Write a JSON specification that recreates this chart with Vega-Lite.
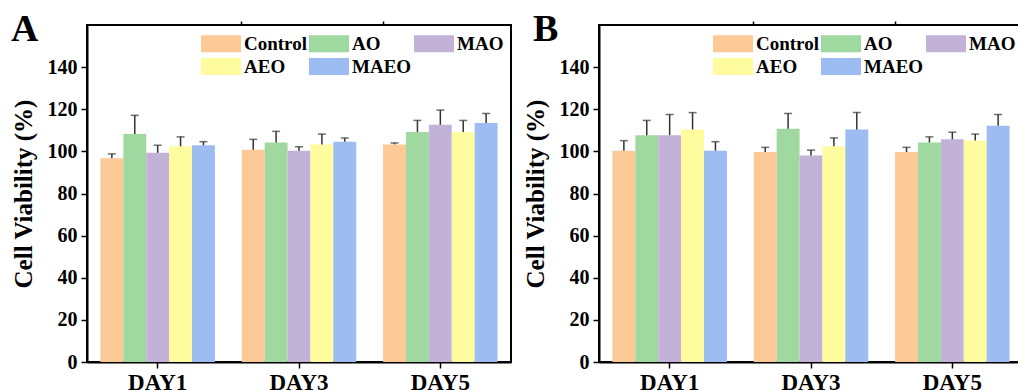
{
  "$schema": "https://vega.github.io/schema/vega-lite/v6.json",
  "padding": {"left": 10, "top": 10, "right": 0, "bottom": 0},
  "background": "white",
  "datasets": {
    "a": [
      {"day": "DAY1", "group": "Control", "value": 96.7, "upper": 98.8},
      {"day": "DAY1", "group": "AO", "value": 108.2, "upper": 117.1},
      {"day": "DAY1", "group": "MAO", "value": 99.3, "upper": 102.9},
      {"day": "DAY1", "group": "AEO", "value": 102.4, "upper": 106.9},
      {"day": "DAY1", "group": "MAEO", "value": 102.9, "upper": 104.6},
      {"day": "DAY3", "group": "Control", "value": 100.8, "upper": 105.7},
      {"day": "DAY3", "group": "AO", "value": 104.2, "upper": 109.5},
      {"day": "DAY3", "group": "MAO", "value": 100.3, "upper": 102.2},
      {"day": "DAY3", "group": "AEO", "value": 103.3, "upper": 108.2},
      {"day": "DAY3", "group": "MAEO", "value": 104.6, "upper": 106.4},
      {"day": "DAY5", "group": "Control", "value": 103.3, "upper": 104.0},
      {"day": "DAY5", "group": "AO", "value": 109.2, "upper": 114.7},
      {"day": "DAY5", "group": "MAO", "value": 112.6, "upper": 119.6},
      {"day": "DAY5", "group": "AEO", "value": 109.2, "upper": 114.7},
      {"day": "DAY5", "group": "MAEO", "value": 113.5, "upper": 118.0}
    ],
    "b": [
      {"day": "DAY1", "group": "Control", "value": 100.3, "upper": 105.1},
      {"day": "DAY1", "group": "AO", "value": 107.7, "upper": 114.7},
      {"day": "DAY1", "group": "MAO", "value": 107.7, "upper": 117.5},
      {"day": "DAY1", "group": "AEO", "value": 110.4, "upper": 118.4},
      {"day": "DAY1", "group": "MAEO", "value": 100.3, "upper": 104.6},
      {"day": "DAY3", "group": "Control", "value": 99.7, "upper": 101.9},
      {"day": "DAY3", "group": "AO", "value": 110.8, "upper": 118.0},
      {"day": "DAY3", "group": "MAO", "value": 98.1, "upper": 100.6},
      {"day": "DAY3", "group": "AEO", "value": 102.4, "upper": 106.4},
      {"day": "DAY3", "group": "MAEO", "value": 110.4, "upper": 118.4},
      {"day": "DAY5", "group": "Control", "value": 99.7, "upper": 101.9},
      {"day": "DAY5", "group": "AO", "value": 104.2, "upper": 106.9},
      {"day": "DAY5", "group": "MAO", "value": 105.7, "upper": 109.1},
      {"day": "DAY5", "group": "AEO", "value": 105.2, "upper": 108.2},
      {"day": "DAY5", "group": "MAEO", "value": 112.2, "upper": 117.5}
    ]
  },
  "config": {
    "font": "Liberation Serif",
    "view": {"stroke": "black", "strokeWidth": 2},
    "axis": {
      "labelFont": "Liberation Serif", "labelFontWeight": "bold", "labelColor": "black",
      "titleFont": "Liberation Serif", "titleFontWeight": "bold", "titleColor": "black",
      "domainColor": "black", "domainWidth": 2, "tickColor": "black", "tickWidth": 1.5, "grid": false
    },
    "legend": {
      "labelFont": "Liberation Serif", "labelFontWeight": "bold", "labelFontSize": 19, "labelColor": "black",
      "symbolType": "M-1,-1H3.706V1H-1Z", "symbolSize": 289, "symbolStrokeWidth": 0, "symbolOpacity": 1,
      "labelOffset": 25, "columns": 3, "columnPadding": 1, "rowPadding": 3, "padding": 0,
      "orient": "none", "direction": "horizontal", "legendX": 113, "legendY": 9, "title": null
    },
    "title": {"font": "Liberation Serif", "fontWeight": "bold", "fontSize": 38, "color": "black", "anchor": "start", "frame": "bounds", "baseline": "alphabetic"}
  },
  "resolve": {"legend": {"color": "independent"}},
  "spacing": 10,
  "hconcat": [
    {
      "title": {"text": "A", "offset": -29},
      "data": {"name": "a"},
      "width": 424, "height": 337,
      "resolve": {"axis": {"x": "independent"}},
      "layer": [
        {
          "mark": {"type": "bar"},
          "encoding": {
            "x": {"field": "day", "type": "nominal", "sort": ["DAY1", "DAY3", "DAY5"], "scale": {"paddingInner": 0.19, "paddingOuter": 0.095},
              "axis": {"title": null, "labelAngle": 0, "labelFontSize": 23, "labelPadding": 3, "tickSize": 6, "domain": true}},
            "xOffset": {"field": "group", "sort": ["Control", "AO", "MAO", "AEO", "MAEO"]},
            "y": {"field": "value", "type": "quantitative", "scale": {"domain": [0, 150]},
              "axis": {"title": "Cell Viability (%)", "titleFontSize": 25, "titlePadding": 11, "labelFontSize": 20, "labelPadding": 4,
                "values": [0, 10, 20, 30, 40, 50, 60, 70, 80, 90, 100, 110, 120, 130, 140],
                "labelExpr": "datum.value % 20 === 0 ? datum.label : ''",
                "tickSize": {"condition": {"test": "datum.value % 20 === 0", "value": 6}, "value": 4}}},
            "color": {"field": "group", "type": "nominal", "sort": ["Control", "AO", "MAO", "AEO", "MAEO"],
              "scale": {"domain": ["Control", "AO", "MAO", "AEO", "MAEO"], "range": ["#FDC997", "#9FD99F", "#C3B2D7", "#FFFB9F", "#9CBCF2"]}}
          }
        },
        {
          "mark": {"type": "rule", "color": "#333333", "strokeWidth": 1.5},
          "encoding": {
            "x": {"field": "day", "type": "nominal", "sort": ["DAY1", "DAY3", "DAY5"],
              "axis": {"title": null, "labels": false, "domain": false, "values": ["DAY3", "DAY5"], "bandPosition": 0, "tickSize": 4}},
            "xOffset": {"field": "group", "sort": ["Control", "AO", "MAO", "AEO", "MAEO"]},
            "y": {"field": "value", "type": "quantitative"},
            "y2": {"field": "upper"}
          }
        },
        {
          "mark": {"type": "tick", "color": "#333333", "thickness": 1.5, "size": 8},
          "encoding": {
            "x": {"field": "day", "type": "nominal", "sort": ["DAY1", "DAY3", "DAY5"], "axis": null},
            "xOffset": {"field": "group", "sort": ["Control", "AO", "MAO", "AEO", "MAEO"]},
            "y": {"field": "upper", "type": "quantitative"}
          }
        }
      ]
    },
    {
      "title": {"text": "B", "offset": -29, "dx": 10},
      "data": {"name": "b"},
      "width": 424, "height": 337,
      "resolve": {"axis": {"x": "independent"}},
      "layer": [
        {
          "mark": {"type": "bar"},
          "encoding": {
            "x": {"field": "day", "type": "nominal", "sort": ["DAY1", "DAY3", "DAY5"], "scale": {"paddingInner": 0.19, "paddingOuter": 0.095},
              "axis": {"title": null, "labelAngle": 0, "labelFontSize": 23, "labelPadding": 3, "tickSize": 6, "domain": true}},
            "xOffset": {"field": "group", "sort": ["Control", "AO", "MAO", "AEO", "MAEO"]},
            "y": {"field": "value", "type": "quantitative", "scale": {"domain": [0, 150]},
              "axis": {"title": "Cell Viability (%)", "titleFontSize": 25, "titlePadding": 11, "labelFontSize": 20, "labelPadding": 4,
                "values": [0, 10, 20, 30, 40, 50, 60, 70, 80, 90, 100, 110, 120, 130, 140],
                "labelExpr": "datum.value % 20 === 0 ? datum.label : ''",
                "tickSize": {"condition": {"test": "datum.value % 20 === 0", "value": 6}, "value": 4}}},
            "color": {"field": "group", "type": "nominal", "sort": ["Control", "AO", "MAO", "AEO", "MAEO"],
              "scale": {"domain": ["Control", "AO", "MAO", "AEO", "MAEO"], "range": ["#FDC997", "#9FD99F", "#C3B2D7", "#FFFB9F", "#9CBCF2"]}}
          }
        },
        {
          "mark": {"type": "rule", "color": "#333333", "strokeWidth": 1.5},
          "encoding": {
            "x": {"field": "day", "type": "nominal", "sort": ["DAY1", "DAY3", "DAY5"],
              "axis": {"title": null, "labels": false, "domain": false, "values": ["DAY3", "DAY5"], "bandPosition": 0, "tickSize": 4}},
            "xOffset": {"field": "group", "sort": ["Control", "AO", "MAO", "AEO", "MAEO"]},
            "y": {"field": "value", "type": "quantitative"},
            "y2": {"field": "upper"}
          }
        },
        {
          "mark": {"type": "tick", "color": "#333333", "thickness": 1.5, "size": 8},
          "encoding": {
            "x": {"field": "day", "type": "nominal", "sort": ["DAY1", "DAY3", "DAY5"], "axis": null},
            "xOffset": {"field": "group", "sort": ["Control", "AO", "MAO", "AEO", "MAEO"]},
            "y": {"field": "upper", "type": "quantitative"}
          }
        }
      ]
    }
  ]
}
